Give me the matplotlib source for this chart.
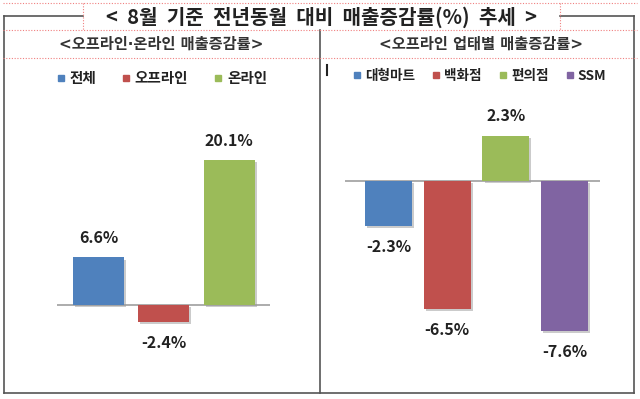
import matplotlib
matplotlib.use("Agg")
import matplotlib.pyplot as plt
import matplotlib.patheffects as pe
from matplotlib.lines import Line2D

plt.rcParams['font.family'] = ['Noto Sans CJK KR', 'DejaVu Sans']

# data
title = "< 8월 기준 전년동월 대비 매출증감률(%) 추세 >"
left_title = "<오프라인·온라인 매출증감률>"
right_title = "<오프라인 업태별 매출증감률>"

channel_names = ["전체", "오프라인", "온라인"]
channel_values = [6.6, -2.4, 20.1]
channel_colors = ["#4F81BD", "#C0504D", "#9BBB59"]

store_names = ["대형마트", "백화점", "편의점", "SSM"]
store_values = [-2.3, -6.5, 2.3, -7.6]
store_colors = ["#4F81BD", "#C0504D", "#9BBB59", "#8064A2"]

W, H = 640, 399
fig = plt.figure(figsize=(6.4, 3.99), dpi=100)


def fx(x):
    return x / W


def fy(y):
    return 1 - y / H


def line(x0, y0, x1, y1, **kw):
    fig.add_artist(Line2D([fx(x0), fx(x1)], [fy(y0), fy(y1)], **kw))


# frame
solid = dict(color="#555555", lw=1.2)
dotted = dict(color="#F08080", lw=0.8, ls=(0, (1, 1.5)))
line(4, 16, 83, 16, **solid)
line(560, 16, 634, 16, **solid)
line(4, 16, 4, 393, **solid)
line(634, 16, 634, 393, **solid)
line(4, 393, 634, 393, **solid)
line(320, 30, 320, 393, **solid)
line(3, 3, 637, 3, **dotted)
line(3, 30, 637, 30, **dotted)
line(3, 58, 637, 58, **dotted)
line(83, 3, 83, 30, **dotted)
line(560, 3, 560, 30, **dotted)
line(327, 65, 327, 75, color="#222222", lw=1.5)

fig.text(fx(322), fy(17), title.replace(" ", "  "), ha="center", va="center",
         fontsize=14.5, fontweight="bold", color="#222222")
hdr_font = ['DejaVu Sans', 'Noto Sans CJK KR']
fig.text(fx(161), fy(44), left_title, ha="center", va="center",
         fontsize=11, fontweight="bold", color="#333333", family=hdr_font)
fig.text(fx(481), fy(44), right_title, ha="center", va="center",
         fontsize=11, fontweight="bold", color="#333333", family=hdr_font)


def panel(x0, x1, y0, y1, names, values, colors, ylim, xlim, width,
          legend_y, legend_x, colsp, lsize):
    ax = fig.add_axes([fx(x0), fy(y1), fx(x1) - fx(x0), fy(y0) - fy(y1)])
    xs = list(range(len(values)))
    bars = ax.bar(xs, values, width=width, color=colors, zorder=2)
    for b in bars:
        b.set_path_effects([pe.SimplePatchShadow(offset=(1.5, -1.5),
                                                 shadow_rgbFace="#999999",
                                                 alpha=0.5), pe.Normal()])
    ax.axhline(0, color="#A6A6A6", lw=1.3, zorder=1)
    for x, v in zip(xs, values):
        off = 14 if v > 0 else -15
        ax.annotate(f"{v:.1f}%", (x, v), xytext=(0, off),
                    textcoords="offset points", ha="center", va="center",
                    fontsize=11.5, fontweight="bold", color="#222222")
    ax.set_xlim(*xlim)
    ax.set_ylim(*ylim)
    ax.axis("off")
    handles = [Line2D([], [], ls="", marker="s", markersize=5,
                      color=b.get_facecolor()) for b in bars]
    ax.legend(handles, names, loc="center", ncol=len(names),
              bbox_to_anchor=(fx(legend_x), fy(legend_y)),
              bbox_transform=fig.transFigure, frameon=False,
              handlelength=0.5, handletextpad=0.35,
              columnspacing=colsp,
              prop=dict(size=lsize, weight="bold"), labelcolor="#222222")
    return ax


panel(57, 270, 100, 370, channel_names, channel_values, channel_colors,
      ylim=(-(370 - 305) / 7.2, (305 - 100) / 7.2),
      xlim=(-0.634, 2.626), width=0.78, legend_y=78, legend_x=162,
      colsp=1.8, lsize=10.5)

panel(345, 600, 100, 370, store_names, store_values, store_colors,
      ylim=(-(370 - 181) / 19.7, (181 - 100) / 19.7),
      xlim=(-0.741, 3.603), width=0.80, legend_y=76, legend_x=480,
      colsp=1.3, lsize=9.8)

fig.savefig("out.png", dpi=100, facecolor="white")
